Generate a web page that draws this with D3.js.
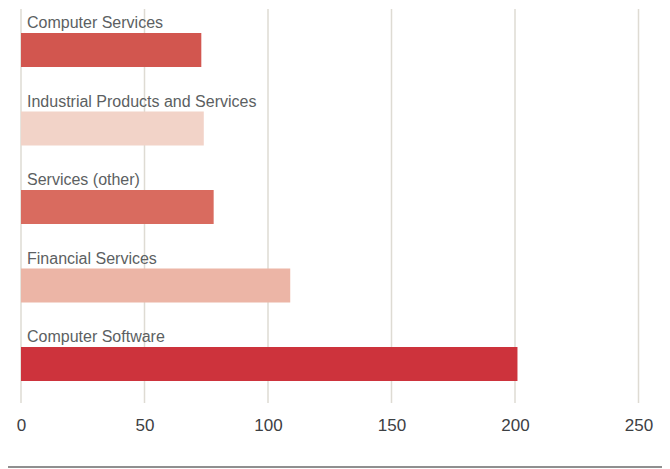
<!DOCTYPE html>
<html>
<head>
<meta charset="utf-8">
<script src="https://cdn.jsdelivr.net/npm/d3@7"></script>
<style>
  html, body { margin: 0; padding: 0; background: #fff; }
  svg { display: block; font-family: "Liberation Sans", Arial, Helvetica, sans-serif; }
</style>
</head>
<body>
<svg id="chart" width="670" height="469"></svg>
<script>
// Sectors, top to bottom, with their counts
const categories = [
  "Computer Services",
  "Industrial Products and Services",
  "Services (other)",
  "Financial Services",
  "Computer Software"
];
const values = [73, 74, 78, 109, 201];
const barColors = ["#d2564f", "#f2d3c8", "#d96b5f", "#ecb5a6", "#cd333c"];
const tickValues = [0, 50, 100, 150, 200, 250];

const svg = d3.select("#chart");

const x = d3.scaleLinear().domain([0, 250]).range([21, 638.5]);
const y = d3.scalePoint().domain(categories).range([33, 347]);
const barH = 34;

// vertical gridlines
svg.append("g")
  .selectAll("line")
  .data(tickValues)
  .join("line")
  .attr("x1", d => x(d)).attr("x2", d => x(d))
  .attr("y1", 9).attr("y2", 403)
  .attr("stroke", "#dedbd3")
  .attr("stroke-width", 1.5);

// bars
svg.append("g")
  .selectAll("rect")
  .data(categories)
  .join("rect")
  .attr("x", x(0))
  .attr("y", d => y(d))
  .attr("width", (d, i) => x(values[i]) - x(0))
  .attr("height", barH)
  .attr("fill", (d, i) => barColors[i]);

// category labels above each bar
svg.append("g")
  .selectAll("text")
  .data(categories)
  .join("text")
  .attr("x", 27)
  .attr("y", d => y(d) - 4.7)
  .attr("font-size", 16)
  .attr("fill", "#5c5f62")
  .text(d => d);

// x axis labels
const axis = d3.axisBottom(x).tickValues(tickValues).tickSize(0).tickPadding(0);
const ax = svg.append("g").attr("transform", "translate(0,418)").call(axis);
ax.select(".domain").remove();
ax.selectAll("text")
  .attr("font-size", 17)
  .attr("font-family", "\"Liberation Sans\", Arial, sans-serif")
  .attr("fill", "#3d4043")
  .attr("dy", 0)
  .attr("y", 13.3);

// bottom rule
svg.append("line")
  .attr("x1", 8).attr("x2", 662)
  .attr("y1", 467).attr("y2", 467)
  .attr("stroke", "#6a6a6a")
  .attr("stroke-width", 1.5);
</script>
</body>
</html>
